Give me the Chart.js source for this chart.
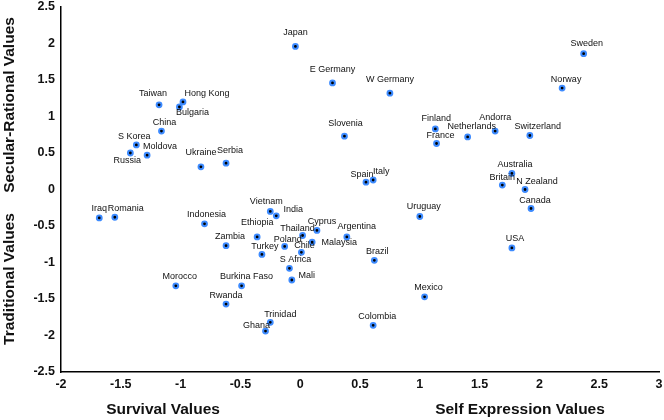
<!DOCTYPE html>
<html>
<head>
<meta charset="utf-8">
<script src="https://cdn.jsdelivr.net/npm/chart.js@4/dist/chart.umd.min.js"></script>
<style>
  html, body { margin: 0; padding: 0; background: #fff; }
  #wrap { width: 664px; height: 420px; position: relative; }
</style>
</head>
<body>
<div id="wrap"><canvas id="c" width="664" height="420"></canvas></div>
<script>
// ---- Data ----
const countries = [
  "Japan","E Germany","W Germany","Sweden","Norway","Taiwan","Hong Kong","Bulgaria",
  "China","S Korea","Moldova","Russia","Ukraine","Serbia","Slovenia","Finland",
  "France","Netherlands","Andorra","Switzerland","Spain","Italy","Australia","Britain",
  "N Zealand","Canada","Iraq","Romania","Indonesia","Vietnam","India","Ethiopia",
  "Zambia","Turkey","Poland","Thailand","Cyprus","Chile","Malaysia","Argentina",
  "S Africa","Mali","Morocco","Burkina Faso","Rwanda","Trinidad","Ghana","Uruguay",
  "Brazil","USA","Mexico","Colombia"
];
const survivalSelfExpression = [
  -0.04, 0.27, 0.75, 2.37, 2.19, -1.18, -0.98, -1.01,
  -1.16, -1.37, -1.28, -1.42, -0.83, -0.62, 0.37, 1.13,
  1.14, 1.40, 1.63, 1.92, 0.55, 0.61, 1.77, 1.69,
  1.88, 1.93, -1.68, -1.55, -0.80, -0.25, -0.20, -0.36,
  -0.62, -0.32, -0.13, 0.02, 0.14, 0.01, 0.10, 0.39,
  -0.09, -0.07, -1.04, -0.49, -0.62, -0.25, -0.29, 1.00,
  0.62, 1.77, 1.04, 0.61
];
const traditionalSecular = [
  1.96, 1.46, 1.32, 1.86, 1.39, 1.16, 1.20, 1.13,
  0.80, 0.61, 0.47, 0.50, 0.31, 0.36, 0.73, 0.83,
  0.63, 0.72, 0.80, 0.74, 0.10, 0.13, 0.22, 0.06,
  0.00, -0.26, -0.39, -0.38, -0.47, -0.30, -0.36, -0.65,
  -0.77, -0.89, -0.78, -0.63, -0.56, -0.86, -0.72, -0.65,
  -1.08, -1.24, -1.32, -1.32, -1.57, -1.82, -1.94, -0.37,
  -0.97, -0.80, -1.47, -1.86
];
const xTickValues = [-2, -1.5, -1, -0.5, 0, 0.5, 1, 1.5, 2, 2.5, 3];
const yTickValues = [-2.5, -2, -1.5, -1, -0.5, 0, 0.5, 1, 1.5, 2, 2.5];
const xTitles = ["Survival Values", "Self Expression Values"];
const yTitles = ["Secular-Rational Values", "Traditional Values"];

// ---- Label placement (style only: pixel offsets of text centre from point) ----
const defaultOffset = [3, -9];
const labelOffsets = {
  "Japan": [0, -14], "E Germany": [0, -13], "W Germany": [0, -14], "Sweden": [3, -10],
  "Norway": [4, -9], "Taiwan": [-6, -11], "Hong Kong": [24, -8], "Bulgaria": [13, 6],
  "China": [3, -9], "S Korea": [-2, -8], "Moldova": [13, -9], "Russia": [-3, 8],
  "Ukraine": [0, -14], "Serbia": [4, -13], "Slovenia": [1, -13], "Finland": [1, -10],
  "France": [4, -8], "Netherlands": [4, -10], "Andorra": [0, -14], "Switzerland": [8, -9],
  "Spain": [-4, -8], "Italy": [8, -8], "Australia": [3, -9], "Britain": [0, -8],
  "N Zealand": [12, -8], "Canada": [4, -8], "Iraq": [0, -9], "Romania": [11, -9],
  "Indonesia": [2, -9], "Vietnam": [-4, -10], "India": [17, -6], "Ethiopia": [0, -14],
  "Zambia": [4, -9], "Turkey": [3, -8], "Poland": [3, -7], "Thailand": [-5, -7],
  "Cyprus": [5, -9], "Chile": [3, -7], "Malaysia": [27, 0], "Argentina": [10, -10],
  "S Africa": [6, -9], "Mali": [15, -5], "Morocco": [4, -9], "Burkina Faso": [5, -9],
  "Rwanda": [0, -9], "Trinidad": [10, -8], "Ghana": [-9, -6], "Uruguay": [4, -10],
  "Brazil": [3, -9], "USA": [3, -9], "Mexico": [4, -9], "Colombia": [4, -9]
};

const FONT = "'Liberation Sans', Arial, Helvetica, sans-serif";

const points = countries.map((c, i) => ({ x: survivalSelfExpression[i], y: traditionalSecular[i] }));

const pointLabels = {
  id: 'pointLabels',
  afterDatasetsDraw(chart) {
    const ctx = chart.ctx;
    const meta = chart.getDatasetMeta(0);
    ctx.save();
    ctx.font = "9px " + FONT;
    ctx.fillStyle = "#111";
    ctx.textAlign = "center";
    ctx.textBaseline = "middle";
    meta.data.forEach((el, i) => {
      const name = countries[i];
      const off = labelOffsets[name] || defaultOffset;
      ctx.fillText(name, el.x + off[0], el.y + off[1]);
    });
    ctx.restore();
  }
};

const axisTitles = {
  id: 'axisTitles',
  afterDraw(chart) {
    const ctx = chart.ctx;
    ctx.save();
    ctx.font = "bold 15.5px " + FONT;
    ctx.fillStyle = "#111";
    ctx.textAlign = "center";
    ctx.textBaseline = "middle";
    ctx.fillText(xTitles[0], 163, 410);
    ctx.fillText(xTitles[1], 520, 410);
    ctx.translate(10, 0);
    ctx.rotate(-Math.PI / 2);
    ctx.fillText(yTitles[0], -105, 0);
    ctx.fillText(yTitles[1], -279, 0);
    ctx.restore();
  }
};

new Chart(document.getElementById('c'), {
  type: 'scatter',
  data: {
    datasets: [{
      data: points,
      backgroundColor: '#000',
      borderColor: '#3d8bff',
      borderWidth: 2,
      pointRadius: 2.4,
      pointHoverRadius: 2.4
    }]
  },
  options: {
    responsive: false,
    animation: false,
    events: [],
    layout: { autoPadding: false, padding: { left: 0, right: 5, top: 7, bottom: 0 } },
    plugins: { legend: { display: false }, tooltip: { enabled: false } },
    scales: {
      x: {
        type: 'linear', min: -2, max: 3,
        afterFit(s) { s.height = 48; s.paddingLeft = 0; s.paddingRight = 0; },
        afterBuildTicks(s) { s.ticks = xTickValues.map(v => ({ value: v })); },
        grid: { display: false, drawTicks: false },
        border: { display: true, color: '#000', width: 1.5 },
        ticks: {
          padding: 5,
          color: '#111',
          font: { family: FONT, size: 12.5, weight: 'bold' },
          maxRotation: 0,
          callback: v => String(v)
        }
      },
      y: {
        type: 'linear', min: -2.5, max: 2.5,
        afterFit(s) { s.width = 61; s.paddingTop = 0; s.paddingBottom = 0; },
        afterBuildTicks(s) { s.ticks = yTickValues.map(v => ({ value: v })); },
        grid: { display: false, drawTicks: false },
        border: { display: true, color: '#000', width: 1.5 },
        ticks: {
          padding: 6,
          color: '#111',
          font: { family: FONT, size: 12.5, weight: 'bold' },
          callback: v => String(v)
        }
      }
    }
  },
  plugins: [pointLabels, axisTitles]
});
</script>
</body>
</html>
